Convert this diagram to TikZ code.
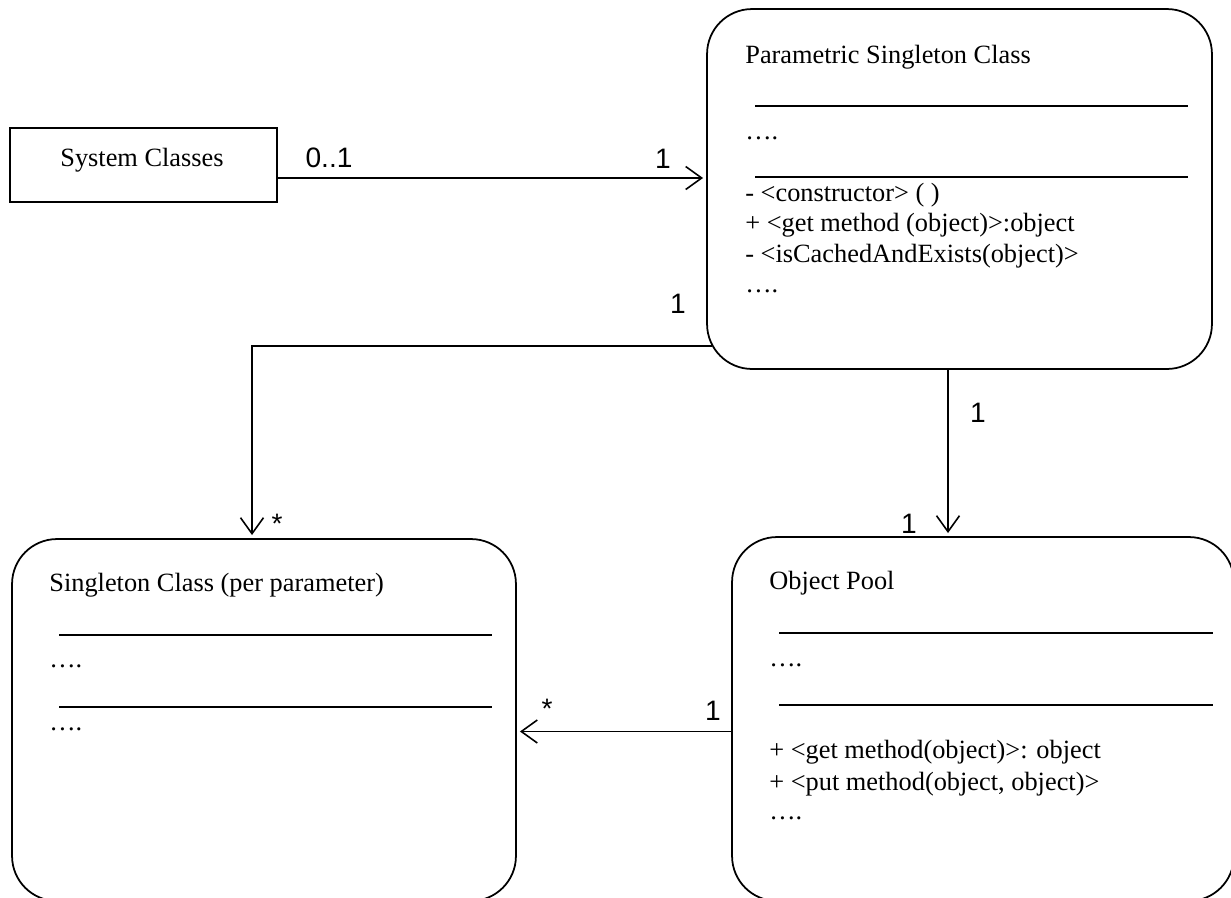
\documentclass[tikz,border=0pt]{standalone}
\usepackage{fontspec}
\setmainfont{Liberation Serif}
\newfontfamily\multfont{Liberation Sans}
\usepackage{tikz}
\usetikzlibrary{arrows.meta}
\usetikzlibrary{shapes,positioning}
\tikzset{uml-line/.style={line width=1pt}}
\tikzset{uml-assoc/.style={line width=0.9pt, -{Straight Barb[length=0.32cm, width=0.46cm]}, shorten >=0.08cm}}
\tikzset{uml-box/.style={draw, line width=1pt, inner sep=0, outer sep=0, minimum width=5.34cm, minimum height=1.48cm}}
\tikzset{uml-class/.style={draw, line width=1pt, inner sep=0, outer sep=0, rounded corners=0.9cm, minimum width=10.08cm, minimum height=7.24cm}}
\tikzset{uml-text/.style={inner sep=0, anchor=base west, font=\fontsize{15}{17}\selectfont}}
\tikzset{uml-mult/.style={inner sep=0, anchor=base, font=\multfont\fontsize{16}{18}\selectfont}}

\begin{document}
\begin{tikzpicture}[x=0.02cm, y=-0.02cm]
            \useasboundingbox (0,0) rectangle (1231,897);

            \node[uml-box] (sysclass) at (143.5,165) {};
            \node[uml-class, minimum width=10.1cm, minimum height=7.2cm] (psclass) at (959.5,189) {};
            \node[uml-class] (sclass) at (264,720) {};
            \node[uml-class, minimum width=10.04cm, minimum height=7.28cm] (pool) at (983,719) {};

            \node[uml-text, anchor=base] (sysclass-name) at (142,166) {System Classes};

            % parametric singleton class
            \node[uml-text] (psclass-name) at (745,63) {Parametric Singleton Class};
            \draw[uml-line] (755,106) -- (1188,106);
            \node[uml-text] (psclass-attr) at (745,139) {….};
            \draw[uml-line] (755,177) -- (1188,177);
            \node[uml-text] (psclass-op1) at (745,201) {- <constructor> ( )};
            \node[uml-text] (psclass-op2) at (745,231) {+ <get method (object)>:object};
            \node[uml-text] (psclass-op3) at (745,262) {- <isCachedAndExists(object)>};
            \node[uml-text] (psclass-op4) at (745,292) {….};

            % singleton class
            \node[uml-text] (sclass-name) at (49,591) {Singleton Class (per parameter)};
            \draw[uml-line] (59,635) -- (492,635);
            \node[uml-text] (sclass-attr) at (49,667) {….};
            \draw[uml-line] (59,707) -- (492,707);
            \node[uml-text] (sclass-op1) at (49,730) {….};

            % object pool
            \node[uml-text] (pool-name) at (769,589) {Object Pool};
            \draw[uml-line] (779,633) -- (1213,633);
            \node[uml-text] (pool-attr) at (769,666) {….};
            \draw[uml-line] (779,705) -- (1213,705);
            \node[uml-text] (pool-op1) at (769,758) {+ <get method(object)>: object};
            \node[uml-text] (pool-op2) at (769,790) {+ <put method(object, object)>};
            \node[uml-text] (pool-op3) at (769,819) {….};

            \coordinate (sys-out) at ([yshift=-0.26cm]sysclass.east);
            \coordinate (psc-out) at ([shift={(0.1cm,0.46cm)}]psclass.south west);
            \coordinate (psc-down) at ([xshift=-0.23cm]psclass.south);
            \coordinate (sclass-in) at ([xshift=-0.24cm]sclass.north);
            \coordinate (pool-out) at ([yshift=-0.25cm]pool.west);

            \draw[uml-assoc] (sys-out) -- (sys-out -| psclass.west);
            \draw[uml-assoc] (psc-out) -| (sclass-in);
            \draw[uml-assoc] (psc-down) -- (psc-down |- pool.north);
            \draw[uml-assoc] (pool-out) -- (pool-out -| sclass.east);

            \node[uml-mult] (m1) at (329,167) {0..1};
            \node[uml-mult] (m2) at (663,168) {1};
            \node[uml-mult] (m3) at (678,313) {1};
            \node[uml-mult] (m4) at (277,533) {*};
            \node[uml-mult] (m5) at (978,422) {1};
            \node[uml-mult] (m6) at (909,533) {1};
            \node[uml-mult] (m7) at (547,718) {*};
            \node[uml-mult] (m8) at (713,720) {1};

        \end{tikzpicture}
\end{document}
